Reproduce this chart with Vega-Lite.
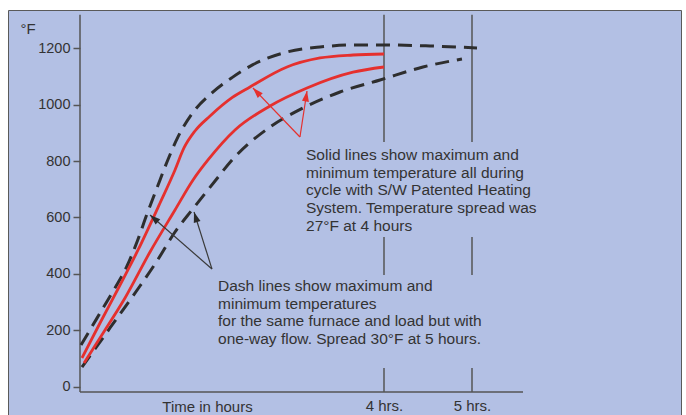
{
  "$schema": "https://vega.github.io/schema/vega-lite/v6.json",
  "autosize": "none",
  "width": 673,
  "height": 410,
  "padding": {"left": 8, "top": 10, "right": 5, "bottom": 0},
  "background": "#ffffff",
  "config": {
    "view": {"fill": "#b3c0e4", "stroke": "#5a5a5a", "strokeWidth": 1},
    "font": "Liberation Sans",
    "axis": {"labelFont": "Liberation Sans", "titleFont": "Liberation Sans"}
  },
  "datasets": {
    "curves": [
      {"series": "maxD", "h": 0.557, "v": 147.9},
      {"series": "maxD", "h": 0.659, "v": 201.1},
      {"series": "maxD", "h": 0.807, "v": 279.1},
      {"series": "maxD", "h": 0.943, "v": 350.0},
      {"series": "maxD", "h": 1.080, "v": 428.0},
      {"series": "maxD", "h": 1.193, "v": 513.1},
      {"series": "maxD", "h": 1.307, "v": 612.4},
      {"series": "maxD", "h": 1.420, "v": 704.6},
      {"series": "maxD", "h": 1.534, "v": 796.8},
      {"series": "maxD", "h": 1.659, "v": 886.0},
      {"series": "maxD", "h": 1.818, "v": 968.0},
      {"series": "maxD", "h": 2.045, "v": 1042.0},
      {"series": "maxD", "h": 2.273, "v": 1096.0},
      {"series": "maxD", "h": 2.511, "v": 1142.0},
      {"series": "maxD", "h": 2.898, "v": 1186.9},
      {"series": "maxD", "h": 3.273, "v": 1204.6},
      {"series": "maxD", "h": 3.648, "v": 1211.7},
      {"series": "maxD", "h": 4.034, "v": 1211.7},
      {"series": "maxD", "h": 4.523, "v": 1208.2},
      {"series": "maxD", "h": 5.057, "v": 1201.1},
      {"series": "minD", "h": 0.568, "v": 69.8},
      {"series": "minD", "h": 0.716, "v": 133.7},
      {"series": "minD", "h": 0.886, "v": 208.2},
      {"series": "minD", "h": 1.057, "v": 282.6},
      {"series": "minD", "h": 1.227, "v": 357.1},
      {"series": "minD", "h": 1.420, "v": 445.7},
      {"series": "minD", "h": 1.625, "v": 548.6},
      {"series": "minD", "h": 1.818, "v": 626.6},
      {"series": "minD", "h": 2.080, "v": 729.4},
      {"series": "minD", "h": 2.273, "v": 803.9},
      {"series": "minD", "h": 2.705, "v": 921.0},
      {"series": "minD", "h": 3.080, "v": 988.3},
      {"series": "minD", "h": 3.500, "v": 1045.0},
      {"series": "minD", "h": 3.955, "v": 1087.6},
      {"series": "minD", "h": 4.443, "v": 1133.7},
      {"series": "minD", "h": 4.886, "v": 1162.1},
      {"series": "maxS", "h": 0.568, "v": 101.8},
      {"series": "maxS", "h": 0.773, "v": 225.9},
      {"series": "maxS", "h": 0.977, "v": 346.5},
      {"series": "maxS", "h": 1.205, "v": 484.8},
      {"series": "maxS", "h": 1.455, "v": 651.4},
      {"series": "maxS", "h": 1.625, "v": 768.4},
      {"series": "maxS", "h": 1.727, "v": 846.5},
      {"series": "maxS", "h": 1.852, "v": 906.7},
      {"series": "maxS", "h": 2.023, "v": 959.9},
      {"series": "maxS", "h": 2.273, "v": 1025.0},
      {"series": "maxS", "h": 2.477, "v": 1062.8},
      {"series": "maxS", "h": 2.898, "v": 1133.7},
      {"series": "maxS", "h": 3.273, "v": 1165.6},
      {"series": "maxS", "h": 3.648, "v": 1176.2},
      {"series": "maxS", "h": 4.000, "v": 1179.8},
      {"series": "minS", "h": 0.591, "v": 84.0},
      {"series": "minS", "h": 0.830, "v": 201.1},
      {"series": "minS", "h": 1.057, "v": 314.5},
      {"series": "minS", "h": 1.341, "v": 477.7},
      {"series": "minS", "h": 1.625, "v": 626.6},
      {"series": "minS", "h": 1.830, "v": 733.0},
      {"series": "minS", "h": 2.000, "v": 803.9},
      {"series": "minS", "h": 2.307, "v": 910.3},
      {"series": "minS", "h": 2.705, "v": 995.4},
      {"series": "minS", "h": 3.125, "v": 1059.2},
      {"series": "minS", "h": 3.648, "v": 1115.2},
      {"series": "minS", "h": 4.000, "v": 1133.7}
    ],
    "guides": [
      {"h": 4, "v": 1318.8, "h2": 4, "v2": 867.7},
      {"h": 4, "v": 530.9, "h2": 4, "v2": 396.1},
      {"h": 4, "v": 66.3, "h2": 4, "v2": -18.8},
      {"h": 5, "v": 1318.8, "h2": 5, "v2": 867.7},
      {"h": 5, "v": 530.9, "h2": 5, "v2": 396.1},
      {"h": 5, "v": 66.3, "h2": 5, "v2": -18.8},
      {"h": 0.5455, "v": 1318.8, "h2": 0.5455, "v2": -18.8},
      {"h": 0.5455, "v": -18.8, "h2": 5.58, "v2": -18.8}
    ],
    "arrows": [
      {"group": "black", "h": 2.045, "v": 417.4, "h2": 1.341, "v2": 608.9},
      {"group": "black", "h": 2.045, "v": 417.4, "h2": 1.841, "v2": 619.5},
      {"group": "red", "h": 3.045, "v": 885.5, "h2": 2.511, "v2": 1059.2},
      {"group": "red", "h": 3.045, "v": 885.5, "h2": 3.125, "v2": 1048.6}
    ],
    "notes": [
      {"h": 3.114, "v": 803.9, "note": "Solid lines show maximum and\nminimum temperature all during\ncycle with S/W Patented Heating\nSystem. Temperature spread was\n27°F at 4 hours"},
      {"h": 2.114, "v": 339.4, "note": "Dash lines show maximum and\nminimum temperatures\nfor the same furnace and load but with\none-way flow. Spread 30°F at 5 hours."}
    ]
  },
  "encoding": {
    "x": {
      "field": "h", "type": "quantitative",
      "scale": {"domain": [-0.2727, 7.375], "nice": false, "zero": false},
      "axis": {
        "values": [4, 5], "labelExpr": "datum.value + ' hrs.'",
        "offset": -28, "domain": false, "ticks": false, "tickSize": 0, "grid": false,
        "labelFontSize": 15, "labelPadding": 6, "labelColor": "#333333", "labelFlush": false, "labelOverlap": false,
        "title": "Time in hours", "titleFontSize": 15, "titleFontWeight": "normal", "titleColor": "#333333",
        "titleX": 199, "titleY": 7, "titleBaseline": "top", "titleAlign": "center"
      }
    },
    "y": {
      "field": "v", "type": "quantitative",
      "scale": {"domain": [-118.1, 1335.8], "nice": false, "zero": false},
      "axis": {
        "values": [0, 200, 400, 600, 800, 1000, 1200], "format": "d",
        "offset": -72, "domain": false, "grid": false,
        "tickSize": 7, "tickColor": "#555555", "tickWidth": 1.5,
        "labelFontSize": 14.5, "labelPadding": 3, "labelColor": "#333333", "labelFlush": false,
        "title": "°F", "titleAngle": 0, "titleX": -60, "titleY": 18, "titleAlign": "left", "titleBaseline": "middle",
        "titleFontSize": 15, "titleFontWeight": "normal", "titleColor": "#333333"
      }
    }
  },
  "layer": [
    {
      "data": {"name": "guides"},
      "mark": {"type": "rule", "color": "#555555", "strokeWidth": 1.5},
      "encoding": {"x2": {"field": "h2"}, "y2": {"field": "v2"}}
    },
    {
      "data": {"name": "curves"},
      "transform": [{"filter": "datum.series === 'maxD' || datum.series === 'minD'"}],
      "mark": {"type": "line", "color": "#2e2e2e", "strokeWidth": 3, "strokeDash": [14, 8], "interpolate": "monotone", "strokeCap": "butt"},
      "encoding": {"detail": {"field": "series"}}
    },
    {
      "data": {"name": "curves"},
      "transform": [{"filter": "datum.series === 'maxS' || datum.series === 'minS'"}],
      "mark": {"type": "line", "color": "#e5302e", "strokeWidth": 2.8, "interpolate": "monotone"},
      "encoding": {"detail": {"field": "series"}}
    },
    {
      "data": {"name": "arrows"},
      "transform": [{"filter": "datum.group === 'black'"}],
      "mark": {"type": "rule", "color": "#3a3a3a", "strokeWidth": 1.2},
      "encoding": {"x2": {"field": "h2"}, "y2": {"field": "v2"}}
    },
    {
      "data": {"name": "arrows"},
      "transform": [{"filter": "datum.group === 'red'"}],
      "mark": {"type": "rule", "color": "#e5302e", "strokeWidth": 1.2},
      "encoding": {"x2": {"field": "h2"}, "y2": {"field": "v2"}}
    },
    {
      "data": {"values": [{"h": 1.341, "v": 608.9}]},
      "mark": {"type": "point", "shape": "M0,0L-0.7,2.1L0.7,2.1Z", "size": 100, "angle": -48.9, "filled": true, "color": "#2a2a2a", "opacity": 1, "strokeWidth": 0}
    },
    {
      "data": {"values": [{"h": 1.841, "v": 619.5}]},
      "mark": {"type": "point", "shape": "M0,0L-0.7,2.1L0.7,2.1Z", "size": 100, "angle": -17.5, "filled": true, "color": "#2a2a2a", "opacity": 1, "strokeWidth": 0}
    },
    {
      "data": {"values": [{"h": 2.511, "v": 1059.2}]},
      "mark": {"type": "point", "shape": "M0,0L-0.7,2.1L0.7,2.1Z", "size": 100, "angle": -43.8, "filled": true, "color": "#e5302e", "opacity": 1, "strokeWidth": 0}
    },
    {
      "data": {"values": [{"h": 3.125, "v": 1048.6}]},
      "mark": {"type": "point", "shape": "M0,0L-0.7,2.1L0.7,2.1Z", "size": 100, "angle": 8.5, "filled": true, "color": "#e5302e", "opacity": 1, "strokeWidth": 0}
    },
    {
      "data": {"name": "notes"},
      "mark": {"type": "text", "align": "left", "baseline": "alphabetic", "lineBreak": "\n", "lineHeight": 17.7, "fontSize": 15.5, "color": "#333333", "font": "Liberation Sans"},
      "encoding": {"text": {"field": "note"}}
    }
  ]
}
